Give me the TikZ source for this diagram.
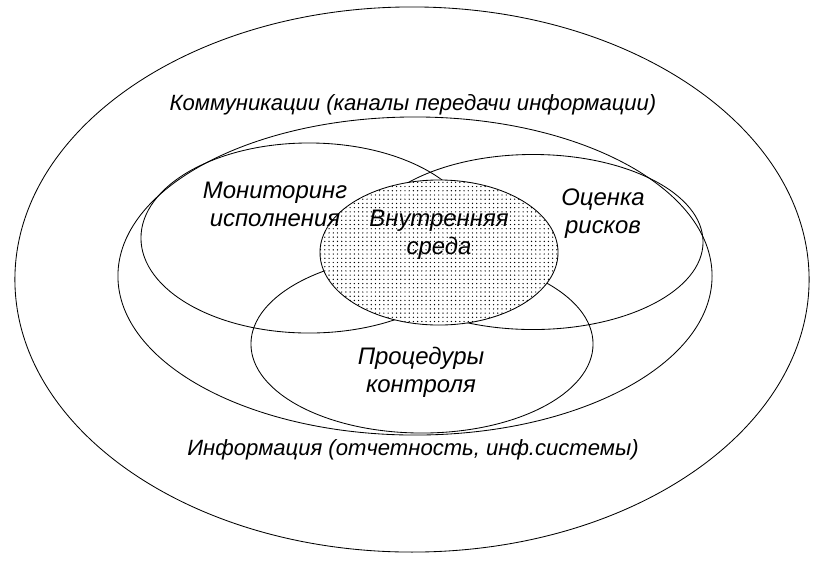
\documentclass[tikz,border=0pt]{standalone}
\usepackage{fontspec}
\setmainfont{Liberation Sans}
\usetikzlibrary{shapes.geometric,patterns,positioning}

\begin{document}
\begin{tikzpicture}[
    x=0.025cm, y=-0.025cm,
    zone/.style={ellipse, draw=black, line width=0.6pt, inner sep=0pt},
    core/.style={zone, preaction={fill=white}, pattern=dots},
    lbl/.style={font=\fontsize{17}{20}\selectfont\itshape, align=center, inner sep=0pt},
    ring/.style={lbl, font=\fontsize{15.7}{19}\selectfont\itshape},
]
\useasboundingbox (0,0) rectangle (831,562);
% outer rings
\node[zone, minimum width=19.85cm, minimum height=13.625cm] (comm) at (412,279.5) {};
\node[zone, minimum width=14.85cm, minimum height=7.95cm] (info) at (415,276) {};
% components
\node[zone, minimum width=8.4cm, minimum height=4.75cm] (monit) at (309,238) {};
\node[zone, minimum width=8.5cm, minimum height=4.375cm] (risk) at (533,242) {};
\node[zone, minimum width=8.55cm, minimum height=4.45cm] (proc) at (422,344) {};
\node[core, minimum width=5.95cm, minimum height=3.625cm] (env) at (439,252.5) {};
% labels
\node[ring] (commtext) at (413,105) {Коммуникации (каналы передачи информации)};
\node[ring] (infotext) at (413,450) {Информация (отчетность, инф.системы)};
\node[lbl] (monittext) at (275,204) {Мониторинг\\исполнения};
\node[lbl] (risktext) at (603,214) {Оценка\\рисков};
\node[lbl] (proctext) at (421,372) {Процедуры\\контроля};
\node[lbl] (envtext) at (439,235) {Внутренняя\\среда};
\end{tikzpicture}
\end{document}
